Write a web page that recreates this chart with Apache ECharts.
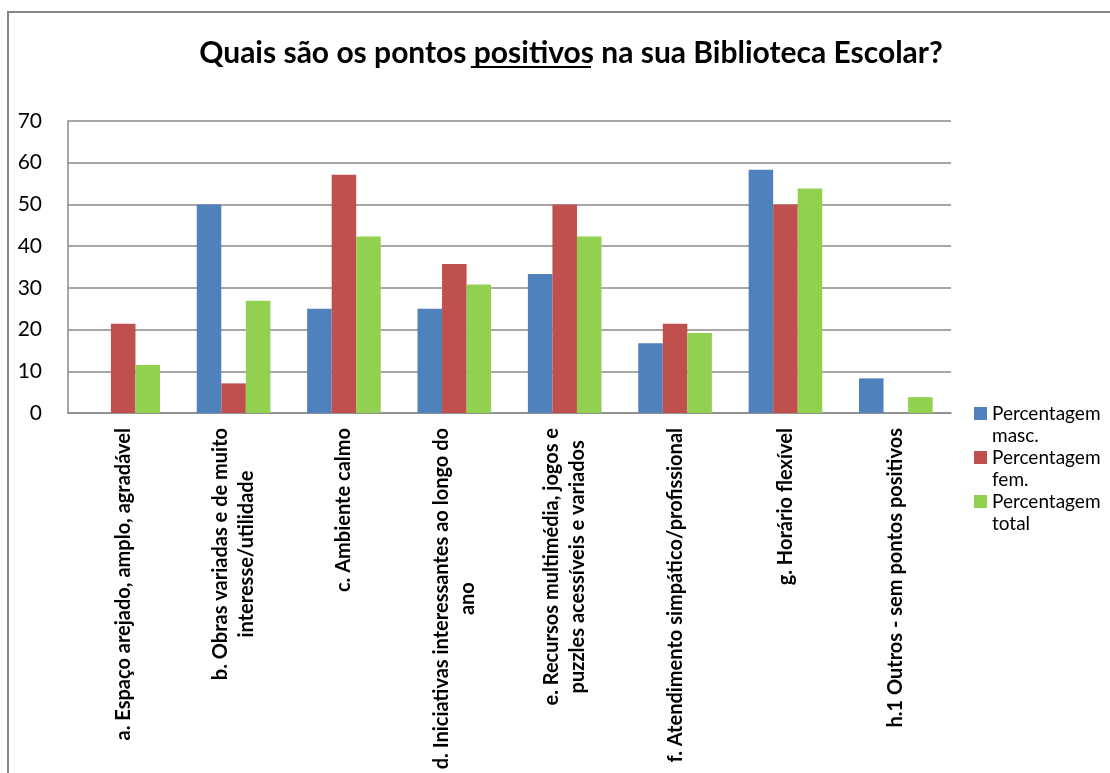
<!DOCTYPE html>
<html>
<head>
<meta charset="utf-8">
<script src="https://cdn.jsdelivr.net/npm/echarts@6/dist/echarts.min.js"></script>
<style>
  html, body { margin: 0; padding: 0; background: #fff; }
  #chart { width: 1110px; height: 773px; }
</style>
</head>
<body>
<div id="chart"></div>
<script>
// categorias (eixo x), com quebra de linha como no original
var categories = [
  'a. Espaço arejado, amplo, agradável',
  'b. Obras variadas e de muito\ninteresse/utilidade',
  'c. Ambiente calmo',
  'd. Iniciativas interessantes ao longo do\nano',
  'e. Recursos multimédia, jogos e\npuzzles acessíveis e variados',
  'f. Atendimento simpático/profissional',
  'g. Horário flexível',
  'h.1 Outros - sem pontos positivos'
];
var seriesNames = ['Percentagem masc.', 'Percentagem fem.', 'Percentagem total'];
var masc = [0, 50, 25, 25, 33.3, 16.7, 58.3, 8.3];
var fem = [21.4, 7.1, 57.1, 35.7, 50, 21.4, 50, 0];
var total = [11.5, 26.9, 42.3, 30.8, 42.3, 19.2, 53.8, 3.8];
var yTicks = [0, 10, 20, 30, 40, 50, 60, 70];

var FONT = 'Lato';
var titleParts = ['Quais são os pontos ', 'positivos', ' na sua Biblioteca Escolar?'];
var titleSize = 30;

var chart = echarts.init(document.getElementById('chart'));

// medir o título para sublinhar "positivos"
var ctx = document.createElement('canvas').getContext('2d');
ctx.font = 'bold ' + titleSize + 'px ' + FONT;
var wA = ctx.measureText(titleParts[0]).width;
var wB = ctx.measureText(titleParts[1]).width;
var wAll = ctx.measureText(titleParts.join('')).width;
var titleCx = 566;
var ulX = titleCx - wAll / 2 + wA;

var grid = { left: 68, right: 159, top: 121, bottom: 360 };
var gridLine = '#8a8a8a';

chart.setOption({
  animation: false,
  color: ['#4F81BD', '#C0504D', '#92D050'],
  textStyle: { fontFamily: FONT },
  title: {
    text: titleParts.join(''),
    left: titleCx,
    textAlign: 'center',
    top: 33,
    textStyle: { fontFamily: FONT, fontSize: titleSize, fontWeight: 'bold', color: '#000' }
  },
  graphic: [
    {
      type: 'rect', silent: true, z: -1,
      shape: { x: 8, y: 12, width: 1200, height: 900 },
      style: { fill: 'none', stroke: '#868686', lineWidth: 2 }
    },
    {
      type: 'rect', silent: true,
      shape: { x: ulX + 2, y: 66, width: wB, height: 2 },
      style: { fill: '#000' }
    }
  ],
  legend: {
    orient: 'vertical',
    left: 974,
    top: 382,
    padding: 0,
    itemWidth: 13,
    itemHeight: 13,
    itemGap: -19,
    icon: 'rect',
    formatter: function (name) {
      var p = name.split(' ');
      return '{s| }\n{t|' + p[0] + '}\n{t|' + p[1] + '}';
    },
    textStyle: {
      fontFamily: FONT, fontSize: 19, color: '#000',
      rich: {
        s: { fontFamily: FONT, fontSize: 19, lineHeight: 22 },
        t: { fontFamily: FONT, fontSize: 19, color: '#000', lineHeight: 22 }
      }
    }
  },
  grid: grid,
  xAxis: {
    type: 'category',
    data: categories,
    axisTick: { show: false },
    axisLine: { lineStyle: { color: gridLine, width: 1.5 } },
    axisLabel: {
      interval: 0,
      rotate: 90,
      margin: 15,
      formatter: function (v) {
        return v.split('\n').map(function (l) { return '{c|' + l + '}'; }).join('\n');
      },
      rich: {
        c: { fontFamily: FONT, fontSize: 20, fontWeight: 'bold', color: '#000', align: 'center', lineHeight: 26 }
      }
    }
  },
  yAxis: {
    type: 'value',
    min: 0,
    max: 70,
    interval: 10,
    axisTick: { show: false },
    axisLine: { show: true, lineStyle: { color: gridLine, width: 1.5 } },
    splitLine: { lineStyle: { color: gridLine, width: 1.5 } },
    axisLabel: {
      margin: 26,
      fontFamily: FONT,
      fontSize: 21,
      color: '#000',
      formatter: function (v) { return yTicks.indexOf(v) >= 0 ? String(v) : ''; }
    }
  },
  series: [
    { name: seriesNames[0], type: 'bar', data: masc, barGap: 0, barCategoryGap: '33.3%' },
    { name: seriesNames[1], type: 'bar', data: fem, barGap: 0, barCategoryGap: '33.3%' },
    { name: seriesNames[2], type: 'bar', data: total, barGap: 0, barCategoryGap: '33.3%' }
  ]
});
</script>
</body>
</html>
